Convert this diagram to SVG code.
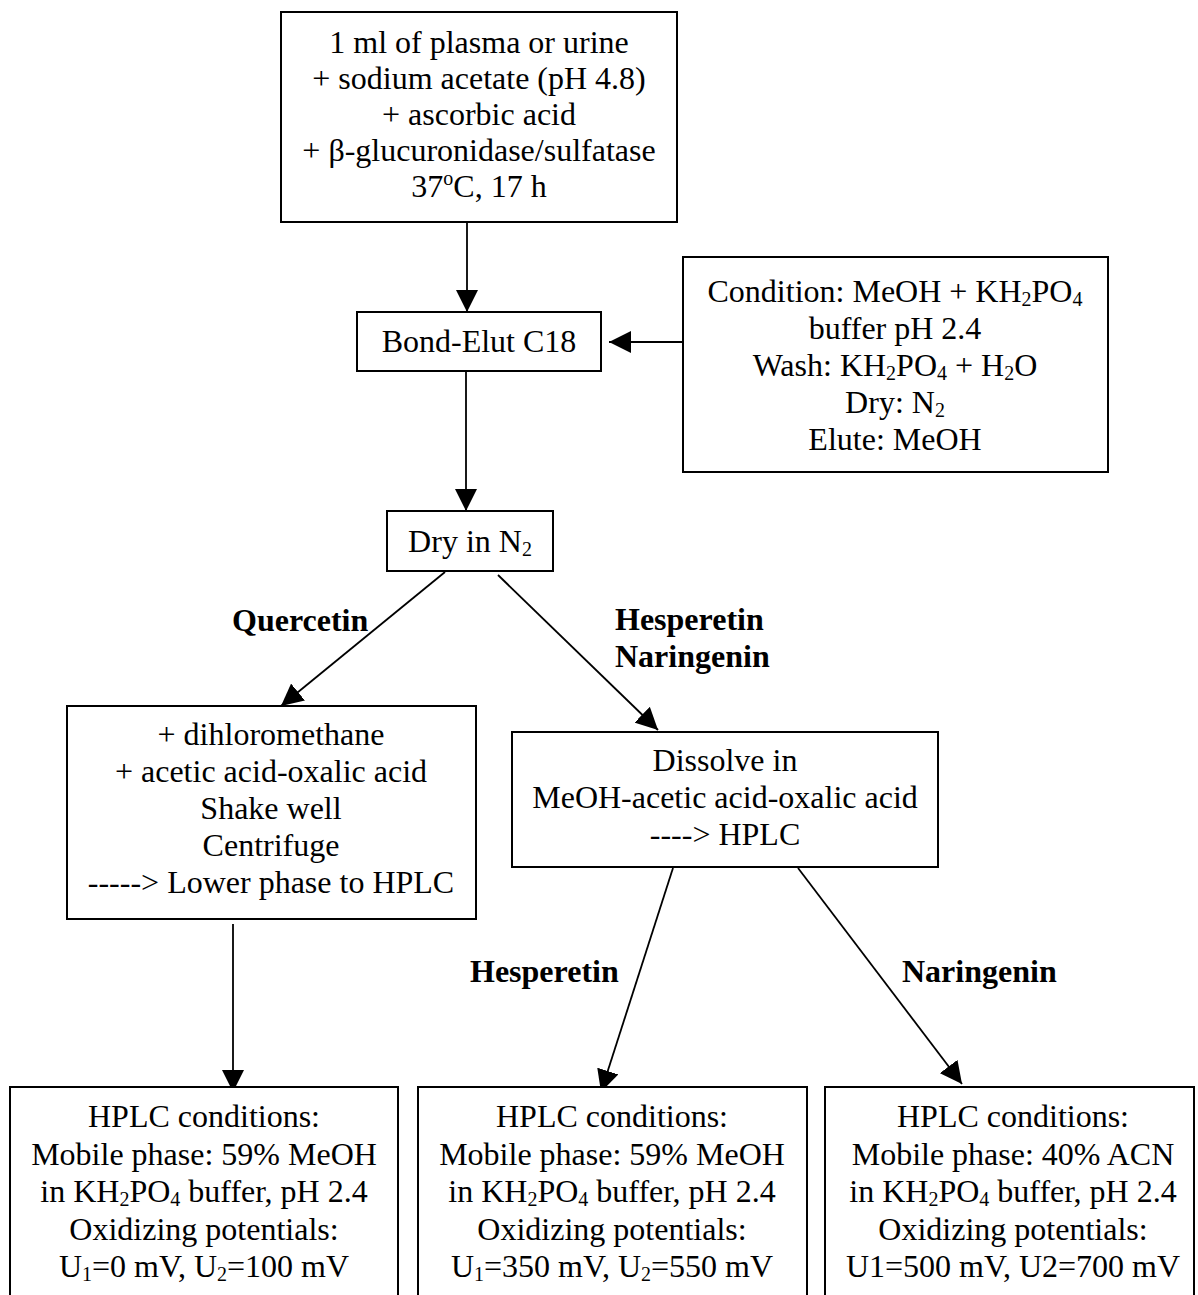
<svg xmlns="http://www.w3.org/2000/svg" width="1198" height="1295" viewBox="0 0 1198 1295">
<style>
text{font-family:"Liberation Serif","Times New Roman",serif;font-size:32px;fill:#000;text-anchor:middle}
.b{font-weight:bold;text-anchor:start}
.box{fill:#fff;stroke:#000;stroke-width:2}
.c{stroke:#000;stroke-width:1.8;fill:none;marker-end:url(#ah)}
.s{font-size:20px}
</style>
<defs>
<marker id="ah" markerUnits="userSpaceOnUse" markerWidth="22" markerHeight="22" refX="20" refY="10" orient="auto" viewBox="0 0 20 20">
<path d="M0,0 L20,10 L0,20 z" fill="#000"/>
</marker>
</defs>
<rect width="1198" height="1295" fill="#fff"/>
<g id="connectors">
<line class="c" x1="467" y1="222" x2="467" y2="312"/>
<line class="c" x1="683" y1="342" x2="609" y2="342"/>
<line class="c" x1="466" y1="371" x2="466" y2="511"/>
<line class="c" x1="445" y1="572" x2="281" y2="706"/>
<line class="c" x1="498" y1="575" x2="658" y2="730"/>
<line class="c" x1="233" y1="924" x2="233" y2="1092"/>
<line class="c" x1="673" y1="868" x2="601" y2="1092"/>
<line class="c" x1="798" y1="868" x2="962" y2="1084"/>
</g>
<g id="labels">
<text class="b" x="232" y="631">Quercetin</text>
<text class="b" x="615" y="630">Hesperetin</text>
<text class="b" x="615" y="667">Naringenin</text>
<text class="b" x="470" y="982">Hesperetin</text>
<text class="b" x="902" y="982">Naringenin</text>
</g>
<g id="sample">
<rect class="box" x="281" y="12" width="396" height="210"/>
<text x="479" y="53">1 ml of plasma or urine</text>
<text x="479" y="89">+ sodium acetate (pH 4.8)</text>
<text x="479" y="125">+ ascorbic acid</text>
<text x="479" y="161">+ β-glucuronidase/sulfatase</text>
<text x="479" y="197">37<tspan class="s" dy="-12">o</tspan><tspan dy="12">C, 17 h</tspan></text>
</g>
<g id="bondelut">
<rect class="box" x="357" y="312" width="244" height="59"/>
<text x="479" y="352">Bond-Elut C18</text>
</g>
<g id="spe">
<rect class="box" x="683" y="257" width="425" height="215"/>
<text x="895" y="302">Condition: MeOH + KH<tspan class="s" dy="4">2</tspan><tspan dy="-4">PO</tspan><tspan class="s" dy="4">4</tspan></text>
<text x="895" y="339">buffer pH 2.4</text>
<text x="895" y="376">Wash: KH<tspan class="s" dy="4">2</tspan><tspan dy="-4">PO</tspan><tspan class="s" dy="4">4</tspan><tspan dy="-4"> + H</tspan><tspan class="s" dy="4">2</tspan><tspan dy="-4">O</tspan></text>
<text x="895" y="413">Dry: N<tspan class="s" dy="4">2</tspan></text>
<text x="895" y="450">Elute: MeOH</text>
</g>
<g id="dry">
<rect class="box" x="387" y="511" width="166" height="60"/>
<text x="470" y="552">Dry in N<tspan class="s" dy="4">2</tspan></text>
</g>
<g id="quercetin">
<rect class="box" x="67" y="706" width="409" height="213"/>
<text x="271" y="745">+ dihloromethane</text>
<text x="271" y="782">+ acetic acid-oxalic acid</text>
<text x="271" y="819">Shake well</text>
<text x="271" y="856">Centrifuge</text>
<text x="271" y="893">-----&gt; Lower phase to HPLC</text>
</g>
<g id="dissolve">
<rect class="box" x="512" y="732" width="426" height="135"/>
<text x="725" y="771">Dissolve in</text>
<text x="725" y="808">MeOH-acetic acid-oxalic acid</text>
<text x="725" y="845">----&gt; HPLC</text>
</g>
<g id="hplcQ">
<rect class="box" x="10" y="1087" width="388" height="220"/>
<text x="204" y="1127">HPLC conditions:</text>
<text x="204" y="1165">Mobile phase: 59% MeOH</text>
<text x="204" y="1202">in KH<tspan class="s" dy="4">2</tspan><tspan dy="-4">PO</tspan><tspan class="s" dy="4">4</tspan><tspan dy="-4"> buffer, pH 2.4</tspan></text>
<text x="204" y="1240">Oxidizing potentials:</text>
<text x="204" y="1277">U<tspan class="s" dy="4">1</tspan><tspan dy="-4">=0 mV, U</tspan><tspan class="s" dy="4">2</tspan><tspan dy="-4">=100 mV</tspan></text>
</g>
<g id="hplcH">
<rect class="box" x="418" y="1087" width="389" height="220"/>
<text x="612" y="1127">HPLC conditions:</text>
<text x="612" y="1165">Mobile phase: 59% MeOH</text>
<text x="612" y="1202">in KH<tspan class="s" dy="4">2</tspan><tspan dy="-4">PO</tspan><tspan class="s" dy="4">4</tspan><tspan dy="-4"> buffer, pH 2.4</tspan></text>
<text x="612" y="1240">Oxidizing potentials:</text>
<text x="612" y="1277">U<tspan class="s" dy="4">1</tspan><tspan dy="-4">=350 mV, U</tspan><tspan class="s" dy="4">2</tspan><tspan dy="-4">=550 mV</tspan></text>
</g>
<g id="hplcN">
<rect class="box" x="825" y="1087" width="369" height="220"/>
<text x="1013" y="1127">HPLC conditions:</text>
<text x="1013" y="1165">Mobile phase: 40% ACN</text>
<text x="1013" y="1202">in KH<tspan class="s" dy="4">2</tspan><tspan dy="-4">PO</tspan><tspan class="s" dy="4">4</tspan><tspan dy="-4"> buffer, pH 2.4</tspan></text>
<text x="1013" y="1240">Oxidizing potentials:</text>
<text x="1013" y="1277">U1=500 mV, U2=700 mV</text>
</g>
</svg>
